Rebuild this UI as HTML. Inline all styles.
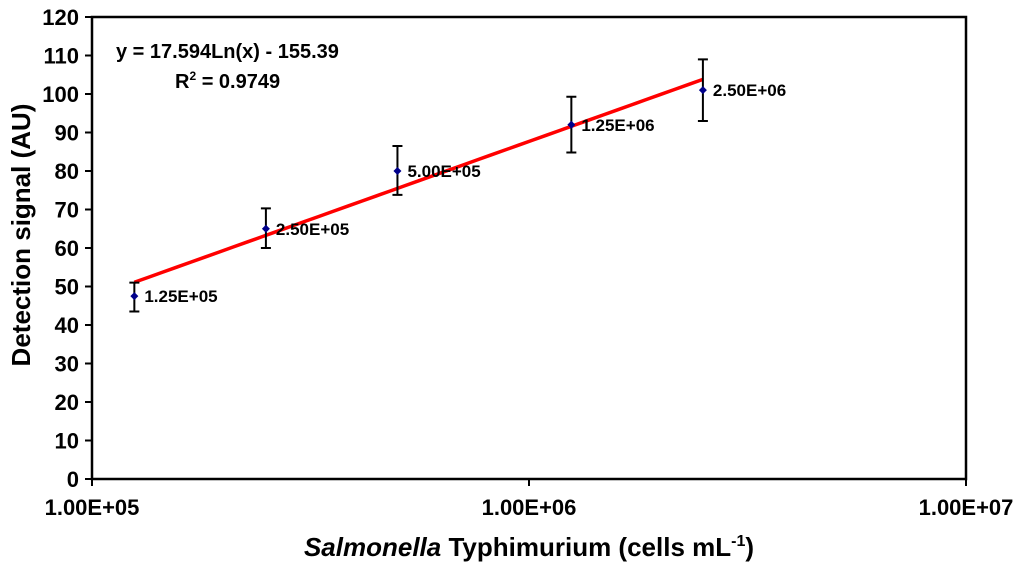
<!DOCTYPE html>
<html><head><meta charset="utf-8"><style>
body{margin:0;background:#fff;width:1024px;height:570px;overflow:hidden}
svg{font-family:"Liberation Sans",Arial,sans-serif;font-weight:bold}
</style></head><body>
<svg id="c" width="1024" height="570"></svg>
<script>
const xVals=[1.25e5,2.5e5,5e5,1.25e6,2.5e6];
const yVals=[47.5,65,80,92,101];
const errLo=[43.5,60,73.8,84.8,93];
const errHi=[51,70.3,86.5,99.3,109];
const pointLabels=["1.25E+05","2.50E+05","5.00E+05","1.25E+06","2.50E+06"];
const yTicks=[0,10,20,30,40,50,60,70,80,90,100,110,120];
const xTicks=[1e5,1e6,1e7];
const xTickLabels=["1.00E+05","1.00E+06","1.00E+07"];
const fitA=17.594, fitB=-155.39;
const L=92,R=966,T=17,B=479;
const sx=v=>L+(Math.log10(v)-5)/2*(R-L);
const sy=v=>B-v/120*(B-T);
const svg=document.getElementById('c');
const NS='http://www.w3.org/2000/svg';
function mk(tag,at,txt){const e=document.createElementNS(NS,tag);for(const k in at)e.setAttribute(k,at[k]);if(txt!=null)e.textContent=txt;svg.appendChild(e);return e;}
let e=mk('rect',{x:L,y:T,width:R-L,height:B-T,fill:'none',stroke:'#000','stroke-width':2.5});

yTicks.forEach(v=>{
 let t=mk('line',{x1:L-7,x2:L,y1:sy(v),y2:sy(v),stroke:'#000','stroke-width':2});
 
 let l=mk('text',{x:L-13,y:sy(v)+8,'text-anchor':'end','font-size':22},v);
 
});
xTicks.forEach((v,i)=>{
 let t=mk('line',{x1:sx(v),x2:sx(v),y1:B,y2:B+7,stroke:'#000','stroke-width':2});
 
 let l=mk('text',{x:sx(v),y:B+36,'text-anchor':'middle','font-size':22},xTickLabels[i]);
 
});
let pts=[];
for(let i=0;i<=40;i++){const lx=Math.log10(xVals[0])+(Math.log10(xVals[4])-Math.log10(xVals[0]))*i/40;const x=Math.pow(10,lx);pts.push(sx(x)+','+sy(fitA*Math.log(x)+fitB));}
e=mk('polyline',{points:pts.join(' '),fill:'none',stroke:'#f00','stroke-width':3.5});

xVals.forEach((x,i)=>{
 const cx=sx(x);
 let g=mk('path',{d:`M${cx},${sy(errLo[i])}V${sy(errHi[i])}M${cx-5},${sy(errLo[i])}H${cx+5}M${cx-5},${sy(errHi[i])}H${cx+5}`,stroke:'#000','stroke-width':2,fill:'none'});
 
 const cy=sy(yVals[i]);
 let p=mk('path',{d:`M${cx},${cy-4}L${cx+4},${cy}L${cx},${cy+4}L${cx-4},${cy}Z`,fill:'#00008b'});
 
 let l=mk('text',{x:cx+10,y:cy+6,'font-size':17},pointLabels[i]);
 
});
</script>
<svg style="position:absolute;left:0;top:0" width="1024" height="570">
<text x="116" y="58" font-size="20">y = 17.594Ln(x) - 155.39</text>
<text x="175" y="88" font-size="20">R<tspan dy="-8" font-size="12">2</tspan><tspan dy="8"> = 0.9749</tspan></text>
<text x="529" y="556" text-anchor="middle" font-size="26"><tspan font-style="italic">Salmonella</tspan> Typhimurium (cells mL<tspan dy="-10" font-size="16">-1</tspan><tspan dy="10">)</tspan></text>
<text transform="translate(30,235) rotate(-90)" text-anchor="middle" font-size="26">Detection signal (AU)</text>
</svg>
</body></html>
